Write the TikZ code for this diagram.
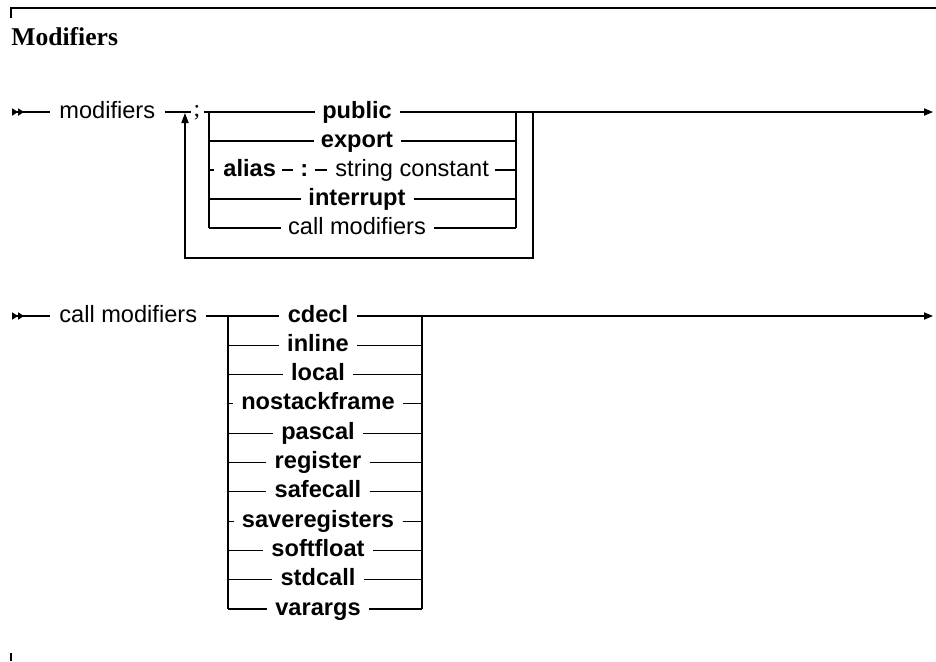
\documentclass[tikz,border=0pt]{standalone}
\usepackage{fontspec}
\setmainfont{Liberation Serif}
\setsansfont{Liberation Sans}
\usetikzlibrary{arrows.meta,positioning,calc}

\tikzset{
  rail/.style={line width=0.55pt},
  startrail/.style={rail,{Triangle[length=3pt,width=3.6pt,reversed]Triangle[length=3pt,width=3.6pt,reversed]}-},
  endrail/.style={rail,-{Triangle[length=4.5pt,width=3.6pt]}},
  looprail/.style={rail,-{Triangle[length=5pt,width=3.6pt]}},
  kw/.style={font=\sffamily\bfseries\fontsize{11.8}{14}\selectfont,anchor=base,inner sep=0pt},
  nt/.style={font=\sffamily\fontsize{11.8}{14}\selectfont,anchor=base,inner sep=0pt},
}

\begin{document}
\begin{tikzpicture}[x=0.5pt,y=-0.5pt]
\useasboundingbox (0,0) rectangle (936,661);

% frame and heading
\draw[rail] (11,18) -- (11,8) -- (936,8);
\draw[rail] (11,653) -- (11,661);
\node[font=\rmfamily\bfseries\fontsize{12.8}{15}\selectfont,anchor=base west,inner sep=0pt] (title) at (11,45) {Modifiers};

% ---- modifiers ----
\coordinate (s1) at (12,112);
\coordinate (e1) at (933,112);
\node[nt,anchor=base west] (mod) at (59,118) {modifiers};
\node[font=\rmfamily\fontsize{11.8}{14}\selectfont,anchor=base,inner sep=0pt] (semi) at (197,116) {;};
\draw[startrail] (s1) -- ($(mod.west |- s1)+(-9,0)$);
\draw[rail] ($(mod.east |- s1)+(9,0)$) -- ($(semi.west |- s1)+(-2,0)$);
\draw[rail] ($(semi.east |- s1)+(3,0)$) -- (209,112);

\foreach \nm/\txt/\y in {pub/public/112,exp/export/141,irq/interrupt/199}{
  \coordinate (\nm-l) at (209,\y);
  \coordinate (\nm-r) at (516,\y);
  \node[kw] (\nm) at (357,\y+6) {\txt};
  \draw[rail] (\nm-l) -- ($(\nm.west |- \nm-l)+(-7,0)$);
  \draw[rail] ($(\nm.east |- \nm-r)+(8,0)$) -- (\nm-r);
}
\coordinate (cm-l) at (209,228);
\coordinate (cm-r) at (516,228);
\node[nt] (cm) at (357,234) {call modifiers};
\draw[rail] (cm-l) -- ($(cm.west |- cm-l)+(-7,0)$);
\draw[rail] ($(cm.east |- cm-r)+(8,0)$) -- (cm-r);

% alias row
\coordinate (al-l) at (209,170);
\coordinate (al-r) at (516,170);
\node[kw,anchor=base west] (alias) at (223,176) {alias};
\node[kw,anchor=base west] (colon) at (300,176) {:};
\node[nt,anchor=base west] (strc) at (335,176) {string constant};
\draw[rail] (al-l) -- ($(alias.west |- al-l)+(-9,0)$);
\draw[rail] ($(alias.east |- al-l)+(6,0)$) -- ($(colon.west |- al-l)+(-7,0)$);
\draw[rail] ($(colon.east |- al-l)+(6,0)$) -- ($(strc.west |- al-l)+(-8,0)$);
\draw[rail] ($(strc.east |- al-r)+(6,0)$) -- (al-r);

\draw[rail] (pub-l) -- (cm-l);
\draw[rail] (pub-r) -- (cm-r);
\draw[endrail] (pub-r) -- (e1);
\draw[looprail] (533,112) -- (533,258) -- (185,258) -- (185,113);

% ---- call modifiers ----
\coordinate (s2) at (12,316);
\coordinate (e2) at (933,316);
\node[nt,anchor=base west] (cmod) at (59,322) {call modifiers};
\draw[startrail] (s2) -- ($(cmod.west |- s2)+(-9,0)$);
\draw[rail] ($(cmod.east |- s2)+(8,0)$) -- (228,316);

\foreach \w [count=\i from 0] in {cdecl,inline,local,nostackframe,pascal,register,safecall,saveregisters,softfloat,stdcall,varargs}{
  \pgfmathsetmacro\y{316+29.3*\i}
  \coordinate (\w-l) at (228,\y);
  \coordinate (\w-r) at (422,\y);
  \node[kw] (\w) at (318,\y+6) {\w};
  \draw[rail] (\w-l) -- ($(\w.west |- \w-l)+(-8,0)$);
  \draw[rail] ($(\w.east |- \w-r)+(8,0)$) -- (\w-r);
}
\draw[rail] (cdecl-l) -- (varargs-l);
\draw[rail] (cdecl-r) -- (varargs-r);
\draw[endrail] (cdecl-r) -- (e2);
\end{tikzpicture}
\end{document}
